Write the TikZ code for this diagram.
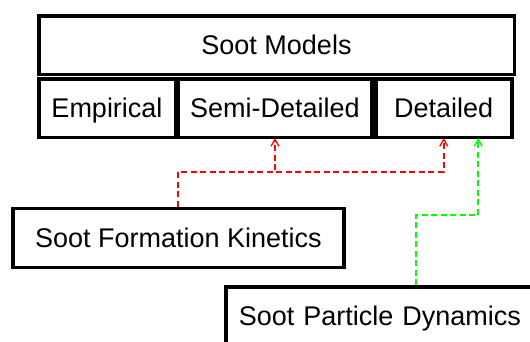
\documentclass[tikz,border=0pt]{standalone}
\usepackage{fontspec}
\setmainfont{Liberation Sans}
\usetikzlibrary{arrows.meta,positioning}
\definecolor{kinred}{HTML}{FF0000}
\definecolor{dyngreen}{HTML}{00FF00}
\tikzset{
  modelbox/.style={draw,line width=3.5pt,inner sep=0pt,minimum height=58.5pt,
    text height=22pt,text depth=4pt},
  link/.style={dash pattern=on 6pt off 3.5pt,line width=1.8pt,shorten >=-1pt,
    -{Straight Barb[length=7pt,width=8pt,line width=1.3pt]}},
}

\begin{document}
\begin{tikzpicture}[x=1pt,y=-1pt,font=\fontsize{27}{31}\selectfont]
\clip (0,0) rectangle (530,341);
% model classes
\node[modelbox,minimum width=475.5pt] (models) at (276.5,45) {Soot Models};
\node[modelbox,minimum width=136.5pt] (empirical) at (107,108) {Empirical};
\node[modelbox,minimum width=193.5pt] (semi) at (275,108) {Semi-Detailed};
\node[modelbox,minimum width=136pt] (detailed) at (443.75,108) {Detailed};
% sub-processes
\node[modelbox,minimum width=331pt,minimum height=59pt] (kinetics) at (178.35,238) {Soot Formation Kinetics};
\node[modelbox,minimum height=59pt,inner xsep=13pt,text width=296pt,align=left,anchor=west] (dynamics) at (224,316.5) {Soot Particle Dynamics};
% links
\draw[link,kinred] (kinetics.north) -- ++(0,-35) -| (semi.south);
\draw[link,kinred] (kinetics.north) -- ++(0,-35) -| (detailed.south);
\draw[link,dyngreen] ([xshift=29pt]dynamics.north) -- ++(0,-70) -| ([xshift=34.5pt]detailed.south);
\end{tikzpicture}
\end{document}
